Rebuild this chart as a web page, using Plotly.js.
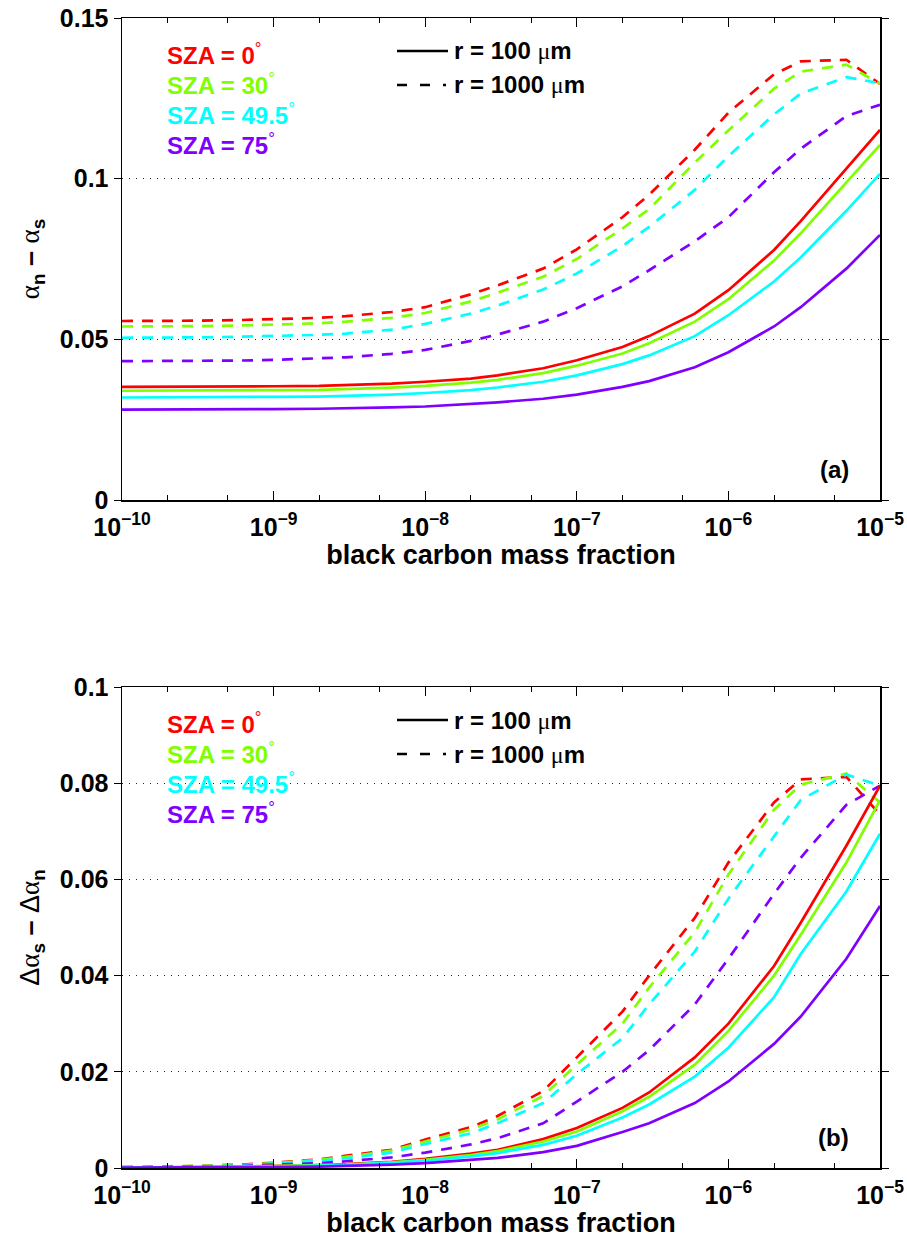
<!DOCTYPE html>
<html>
<head>
<meta charset="utf-8">
<script src="https://cdn.plot.ly/plotly-3.0.1.min.js"></script>
<style>html,body{margin:0;padding:0;background:#fff;}#chart{width:907px;height:1254px;}</style>
</head>
<body>
<div id="chart"></div>
<script>
// ---------- data ----------
const bcFraction = [1e-10,2e-10,3e-10,6e-10, 1e-9,2e-9,3e-9,6e-9, 1e-8,2e-8,3e-8,6e-8, 1e-7,2e-7,3e-7,6e-7, 1e-6,2e-6,3e-6,6e-6, 1e-5];
const xTickVals = [1e-10,1e-9,1e-8,1e-7,1e-6,1e-5];
const xTickText = ['10<sup>−10</sup>','10<sup>−9</sup>','10<sup>−8</sup>','10<sup>−7</sup>','10<sup>−6</sup>','10<sup>−5</sup>'];
const szaLabels = ['0','30','49.5','75'];
const szaColors = ['#ff0000','#80ff00','#00ffff','#8000ff'];

// panel (a): alpha_n - alpha_s
const a_r100_sza0   = [0.0352,0.0352,0.0352,0.0353,0.0354,0.0355,0.0357,0.0362,0.0368,0.0378,0.0388,0.0410,0.0435,0.0476,0.0510,0.0580,0.0653,0.0778,0.0868,0.1030,0.1152];
const a_r100_sza30  = [0.0340,0.0340,0.0340,0.0341,0.0342,0.0343,0.0345,0.0350,0.0355,0.0365,0.0374,0.0395,0.0418,0.0456,0.0488,0.0555,0.0625,0.0745,0.0830,0.0990,0.1105];
const a_r100_sza495 = [0.0319,0.0319,0.0319,0.0320,0.0321,0.0322,0.0324,0.0328,0.0333,0.0342,0.0350,0.0368,0.0388,0.0423,0.0450,0.0510,0.0575,0.0680,0.0755,0.0900,0.1015];
const a_r100_sza75  = [0.0281,0.0281,0.0281,0.0282,0.0283,0.0284,0.0285,0.0288,0.0291,0.0298,0.0304,0.0315,0.0328,0.0352,0.0370,0.0413,0.0460,0.0540,0.0600,0.0720,0.0825];
const a_r1000_sza0   = [0.0557,0.0557,0.0558,0.0560,0.0562,0.0567,0.0572,0.0585,0.0600,0.0640,0.0668,0.0720,0.0780,0.0880,0.0950,0.1090,0.1205,0.1325,0.1365,0.1370,0.1295];
const a_r1000_sza30  = [0.0540,0.0540,0.0541,0.0543,0.0545,0.0550,0.0555,0.0567,0.0582,0.0618,0.0645,0.0695,0.0750,0.0845,0.0905,0.1050,0.1150,0.1280,0.1333,0.1355,0.1295];
const a_r1000_sza495 = [0.0505,0.0505,0.0506,0.0508,0.0510,0.0514,0.0518,0.0530,0.0548,0.0580,0.0605,0.0655,0.0705,0.0790,0.0850,0.0965,0.1070,0.1200,0.1265,0.1316,0.1297];
const a_r1000_sza75  = [0.0432,0.0432,0.0433,0.0434,0.0436,0.0440,0.0444,0.0455,0.0467,0.0495,0.0515,0.0555,0.0597,0.0665,0.0715,0.0805,0.0880,0.1020,0.1093,0.1195,0.1230];

// panel (b): delta alpha_s - delta alpha_n
const b_r100_sza0   = [0.0001,0.0001,0.0002,0.0003,0.0004,0.0006,0.0008,0.0013,0.0019,0.0030,0.0038,0.0060,0.0083,0.0125,0.0157,0.0230,0.0300,0.0420,0.0510,0.0670,0.0795];
const b_r100_sza30  = [0.0001,0.0001,0.0002,0.0003,0.0004,0.0005,0.0007,0.0012,0.0017,0.0027,0.0035,0.0055,0.0076,0.0118,0.0148,0.0215,0.0285,0.0400,0.0485,0.0635,0.0765];
const b_r100_sza495 = [0.0001,0.0001,0.0002,0.0002,0.0003,0.0005,0.0006,0.0011,0.0015,0.0024,0.0031,0.0048,0.0067,0.0105,0.0132,0.0190,0.0250,0.0355,0.0445,0.0575,0.0695];
const b_r100_sza75  = [0.0001,0.0001,0.0001,0.0002,0.0002,0.0003,0.0004,0.0007,0.0010,0.0016,0.0021,0.0033,0.0046,0.0075,0.0093,0.0135,0.0180,0.0258,0.0315,0.0435,0.0545];
const b_r1000_sza0   = [0.0002,0.0003,0.0004,0.0007,0.0011,0.0018,0.0025,0.0038,0.0059,0.0085,0.0108,0.0160,0.0230,0.0325,0.0400,0.0520,0.0635,0.0760,0.0808,0.0813,0.0735];
const b_r1000_sza30  = [0.0002,0.0003,0.0004,0.0006,0.0010,0.0017,0.0023,0.0036,0.0055,0.0080,0.0101,0.0150,0.0215,0.0300,0.0375,0.0490,0.0610,0.0745,0.0797,0.0820,0.0760];
const b_r1000_sza495 = [0.0002,0.0002,0.0003,0.0005,0.0009,0.0015,0.0020,0.0032,0.0050,0.0072,0.0093,0.0135,0.0195,0.0270,0.0340,0.0450,0.0560,0.0690,0.0765,0.0818,0.0795];
const b_r1000_sza75  = [0.0001,0.0002,0.0002,0.0004,0.0007,0.0010,0.0014,0.0022,0.0032,0.0049,0.0062,0.0093,0.0138,0.0200,0.0245,0.0340,0.0435,0.0570,0.0645,0.0755,0.0795];

const aYTickVals = [0,0.05,0.1,0.15];
const aYTickText = ['0','0.05','0.1','0.15'];
const bYTickVals = [0,0.02,0.04,0.06,0.08,0.1];
const bYTickText = ['0','0.02','0.04','0.06','0.08','0.1'];

// ---------- build ----------
const W = 907, H = 1254, ML = 122, MR = 27;
const DASH = '11px,9px';
const traces = [];
function addSet(sets, xa, ya, dash) {
  sets.forEach((ys, i) => traces.push({
    type: 'scatter', mode: 'lines', x: bcFraction, y: ys, xaxis: xa, yaxis: ya,
    line: {color: szaColors[i], width: 2.7, dash: dash}, showlegend: false, hoverinfo: 'skip'
  }));
}
addSet([a_r1000_sza0, a_r1000_sza30, a_r1000_sza495, a_r1000_sza75], 'x', 'y', DASH);
addSet([a_r100_sza0, a_r100_sza30, a_r100_sza495, a_r100_sza75], 'x', 'y', 'solid');
addSet([b_r1000_sza0, b_r1000_sza30, b_r1000_sza495, b_r1000_sza75], 'x2', 'y2', DASH);
addSet([b_r100_sza0, b_r100_sza30, b_r100_sza495, b_r100_sza75], 'x2', 'y2', 'solid');

const FONT = 'Liberation Sans, Arial, sans-serif';
const tickFont = {family: FONT, size: 25, color: '#000', weight: 'bold'};

function xAxis(anchor) {
  return {
    type: 'log', range: [-10, -5], anchor: anchor,
    tickvals: xTickVals, ticktext: xTickText, tickfont: tickFont,
    ticks: 'inside', ticklen: 9, tickwidth: 1, tickcolor: '#000', ticklabelstandoff: 4,
    minor: {ticks: 'inside', ticklen: 5, tickcolor: '#000', tickwidth: 1, showgrid: false},
    showline: true, linecolor: '#000', linewidth: 1.5, mirror: 'ticks',
    showgrid: false, zeroline: false,
    title: {text: 'black carbon mass fraction', font: {family: FONT, size: 27, color: '#000', weight: 'bold'}, standoff: 4}
  };
}
function yAxis(anchor, dom, range, tv, tt, title) {
  return {
    domain: dom, range: range, anchor: anchor,
    tickvals: tv, ticktext: tt, tickfont: tickFont,
    ticks: 'outside', ticklen: 7, tickwidth: 1, tickcolor: '#000',
    showline: true, linecolor: '#000', linewidth: 1.5, mirror: 'ticks',
    showgrid: true, gridcolor: '#222', griddash: '1px,6px', gridwidth: 1,
    zeroline: false,
    title: {text: title, font: {family: FONT, size: 27, color: '#000'}, standoff: 12}
  };
}
const domA = [1 - 500 / H, 1 - 18 / H];
const domB = [1 - 1168 / H, 1 - 687 / H];
const alpha = '<span style="font-family:Liberation Serif">α</span>';

// legend / label annotations relative to each panel box
function px(x) { return (x - ML) / (W - ML - MR); }
const annotations = [];
const shapes = [];
[['y', 482, '(a)'], ['y2', 481, '(b)']].forEach(([ya, hpx, tag]) => {
  const yd = ya + ' domain';
  const fy = off => 1 - off / hpx;
  szaLabels.forEach((s, i) => annotations.push({
    xref: 'paper', yref: yd, x: px(165), y: fy(36 + i * 30), xanchor: 'left', yanchor: 'middle',
    showarrow: false, text: '<b>SZA = ' + s + '</b><sup>°</sup>',
    font: {family: FONT, size: 24, color: szaColors[i]}
  }));
  annotations.push({xref: 'paper', yref: yd, x: px(452), y: fy(33), xanchor: 'left', yanchor: 'middle', showarrow: false,
    text: '<b>r = 100 </b><span style="font-family:Liberation Serif">μ</span><b>m</b>', font: {family: FONT, size: 24, color: '#000'}});
  annotations.push({xref: 'paper', yref: yd, x: px(452), y: fy(67), xanchor: 'left', yanchor: 'middle', showarrow: false,
    text: '<b>r = 1000 </b><span style="font-family:Liberation Serif">μ</span><b>m</b>', font: {family: FONT, size: 24, color: '#000'}});
  shapes.push({type: 'line', xref: 'paper', yref: yd, x0: px(397), x1: px(448), y0: fy(33), y1: fy(33), line: {color: '#000', width: 2.5}});
  shapes.push({type: 'line', xref: 'paper', yref: yd, x0: px(397), x1: px(446), y0: fy(67), y1: fy(67), line: {color: '#000', width: 2.5, dash: '10px,13px'}});
  annotations.push({xref: 'paper', yref: yd, x: px(851), y: fy(hpx - 31), xanchor: 'right', yanchor: 'middle', showarrow: false,
    text: '<b>' + tag + '</b>', font: {family: FONT, size: 24, color: '#000'}});
});

const layout = {
  width: W, height: H,
  margin: {l: ML, r: MR, t: 0, b: 0},
  paper_bgcolor: '#fff', plot_bgcolor: '#fff',
  font: {family: FONT, color: '#000'},
  showlegend: false,
  xaxis: xAxis('y'),
  xaxis2: xAxis('y2'),
  yaxis: yAxis('x', domA, [0, 0.15], aYTickVals, aYTickText,
    alpha + '<sub><b>n</b></sub><b> – </b>' + alpha + '<sub><b>s</b></sub>'),
  yaxis2: yAxis('x2', domB, [0, 0.1], bYTickVals, bYTickText,
    'Δ' + alpha + '<sub><b>s</b></sub><b> – </b>Δ' + alpha + '<sub><b>n</b></sub>'),
  annotations: annotations,
  shapes: shapes
};

Plotly.newPlot('chart', traces, layout, {staticPlot: true, displayModeBar: false});
</script>
</body>
</html>
